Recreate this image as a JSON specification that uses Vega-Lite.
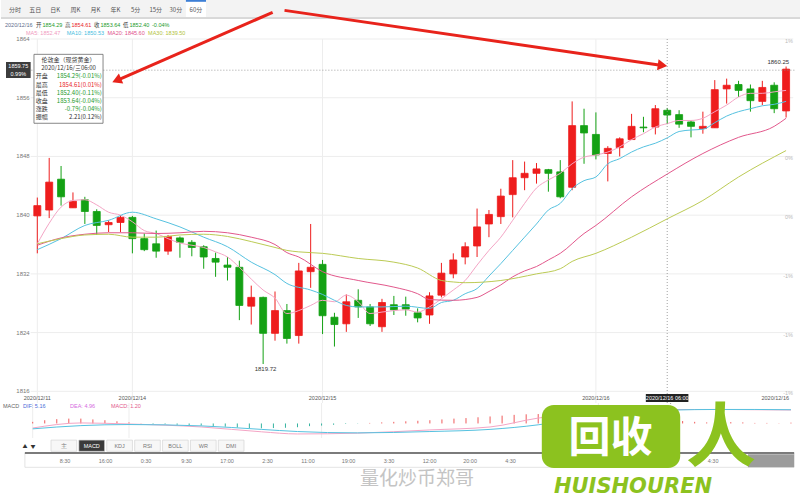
{
"$schema":"https://vega.github.io/schema/vega-lite/v6.json",
"padding":0,"spacing":0,"bounds":"flush","background":"#ffffff",
"config":{"view":{"stroke":null},"font":"Noto Sans CJK SC","text":{"font":"Noto Sans CJK SC","fontSize":6}},
"datasets":{
"k":[
{"i":0,"o":1839.9,"h":1842.4,"l":1834.8,"c":1841.3},
{"i":1,"o":1840.7,"h":1847.8,"l":1839.6,"c":1844.5},
{"i":2,"o":1844.9,"h":1846.7,"l":1841.3,"c":1842.5},
{"i":3,"o":1841.0,"h":1843.1,"l":1841.0,"c":1841.9},
{"i":4,"o":1842.1,"h":1842.5,"l":1838.8,"c":1840.5},
{"i":5,"o":1840.5,"h":1840.8,"l":1837.3,"c":1838.6},
{"i":6,"o":1838.7,"h":1839.3,"l":1837.7,"c":1839.0},
{"i":7,"o":1839.0,"h":1840.0,"l":1837.7,"c":1839.7},
{"i":8,"o":1839.7,"h":1839.9,"l":1834.8,"c":1836.8},
{"i":9,"o":1836.8,"h":1837.5,"l":1835.1,"c":1835.3},
{"i":10,"o":1836.1,"h":1837.9,"l":1834.2,"c":1835.1},
{"i":11,"o":1835.1,"h":1837.3,"l":1834.6,"c":1837.1},
{"i":12,"o":1836.9,"h":1837.1,"l":1834.2,"c":1836.3},
{"i":13,"o":1836.3,"h":1836.6,"l":1834.4,"c":1835.6},
{"i":14,"o":1835.7,"h":1835.9,"l":1832.7,"c":1834.3},
{"i":15,"o":1834.1,"h":1834.9,"l":1831.6,"c":1833.6},
{"i":16,"o":1833.2,"h":1834.3,"l":1831.1,"c":1832.9},
{"i":17,"o":1832.9,"h":1833.8,"l":1825.7,"c":1827.7},
{"i":18,"o":1827.6,"h":1830.4,"l":1825.1,"c":1828.8},
{"i":19,"o":1828.8,"h":1828.9,"l":1819.72,"c":1823.9},
{"i":20,"o":1823.9,"h":1829.6,"l":1822.9,"c":1827.0},
{"i":21,"o":1827.0,"h":1827.9,"l":1822.5,"c":1823.2},
{"i":22,"o":1823.6,"h":1833.5,"l":1822.5,"c":1832.4},
{"i":23,"o":1832.3,"h":1838.8,"l":1830.1,"c":1832.9},
{"i":24,"o":1833.3,"h":1833.9,"l":1823.8,"c":1826.3},
{"i":25,"o":1826.1,"h":1826.7,"l":1822.1,"c":1825.1},
{"i":26,"o":1825.2,"h":1829.2,"l":1824.1,"c":1828.2},
{"i":27,"o":1828.4,"h":1829.9,"l":1826.0,"c":1827.5},
{"i":28,"o":1827.5,"h":1827.9,"l":1824.9,"c":1825.2},
{"i":29,"o":1824.8,"h":1828.6,"l":1824.1,"c":1828.1},
{"i":30,"o":1827.8,"h":1829.0,"l":1826.4,"c":1827.1},
{"i":31,"o":1827.8,"h":1828.9,"l":1826.3,"c":1827.2},
{"i":32,"o":1826.7,"h":1827.3,"l":1825.4,"c":1826.0},
{"i":33,"o":1826.4,"h":1829.5,"l":1825.2,"c":1829.0},
{"i":34,"o":1829.1,"h":1833.5,"l":1828.8,"c":1832.1},
{"i":35,"o":1832.0,"h":1834.8,"l":1831.4,"c":1833.9},
{"i":36,"o":1834.3,"h":1836.3,"l":1833.3,"c":1835.7},
{"i":37,"o":1835.8,"h":1840.9,"l":1834.3,"c":1838.4},
{"i":38,"o":1838.8,"h":1840.7,"l":1837.0,"c":1840.1},
{"i":39,"o":1839.8,"h":1843.6,"l":1838.8,"c":1842.6},
{"i":40,"o":1842.8,"h":1847.5,"l":1839.7,"c":1845.1},
{"i":41,"o":1845.1,"h":1847.3,"l":1843.4,"c":1845.7},
{"i":42,"o":1845.7,"h":1847.1,"l":1844.3,"c":1846.3},
{"i":43,"o":1846.2,"h":1846.3,"l":1843.2,"c":1845.7},
{"i":44,"o":1845.9,"h":1847.5,"l":1842.3,"c":1842.5},
{"i":45,"o":1843.8,"h":1855.5,"l":1843.4,"c":1852.2},
{"i":46,"o":1852.2,"h":1854.5,"l":1847.0,"c":1851.2},
{"i":47,"o":1851.0,"h":1854.0,"l":1847.6,"c":1848.2},
{"i":48,"o":1848.4,"h":1849.4,"l":1844.6,"c":1849.1},
{"i":49,"o":1849.2,"h":1850.6,"l":1848.0,"c":1850.4},
{"i":50,"o":1850.3,"h":1853.8,"l":1850.3,"c":1852.1},
{"i":51,"o":1852.0,"h":1853.4,"l":1851.3,"c":1851.9},
{"i":52,"o":1852.0,"h":1855.0,"l":1851.0,"c":1854.5},
{"i":53,"o":1854.29,"h":1854.61,"l":1852.40,"c":1853.64},
{"i":54,"o":1853.7,"h":1854.3,"l":1851.9,"c":1852.4},
{"i":55,"o":1852.7,"h":1852.9,"l":1850.6,"c":1852.1},
{"i":56,"o":1851.8,"h":1854.1,"l":1851.1,"c":1852.1},
{"i":57,"o":1851.9,"h":1858.4,"l":1851.9,"c":1857.1},
{"i":58,"o":1857.2,"h":1858.6,"l":1855.2,"c":1857.7},
{"i":59,"o":1857.8,"h":1858.3,"l":1856.1,"c":1857.0},
{"i":60,"o":1857.2,"h":1857.8,"l":1854.1,"c":1855.6},
{"i":61,"o":1855.5,"h":1858.3,"l":1855.0,"c":1857.4},
{"i":62,"o":1857.7,"h":1858.1,"l":1853.9,"c":1854.5},
{"i":63,"o":1854.2,"h":1860.25,"l":1853.3,"c":1859.9}
],
"ma":[
{"s":"MA5","i":0,"v":1836.1},{"s":"MA5","i":1,"v":1838.9},{"s":"MA5","i":2,"v":1841.1},{"s":"MA5","i":3,"v":1842.0},{"s":"MA5","i":4,"v":1842.1},{"s":"MA5","i":5,"v":1841.4},{"s":"MA5","i":6,"v":1840.4},{"s":"MA5","i":7,"v":1840.0},{"s":"MA5","i":8,"v":1839.1},{"s":"MA5","i":9,"v":1837.9},{"s":"MA5","i":10,"v":1837.5},{"s":"MA5","i":11,"v":1836.8},{"s":"MA5","i":12,"v":1836.2},{"s":"MA5","i":13,"v":1835.9},{"s":"MA5","i":14,"v":1835.6},{"s":"MA5","i":15,"v":1835.0},{"s":"MA5","i":16,"v":1834.3},{"s":"MA5","i":17,"v":1832.9},{"s":"MA5","i":18,"v":1831.3},{"s":"MA5","i":19,"v":1829.8},{"s":"MA5","i":20,"v":1828.7},{"s":"MA5","i":21,"v":1826.6},{"s":"MA5","i":22,"v":1827.0},{"s":"MA5","i":23,"v":1827.7},{"s":"MA5","i":24,"v":1828.4},{"s":"MA5","i":25,"v":1828.2},{"s":"MA5","i":26,"v":1829.1},{"s":"MA5","i":27,"v":1828.2},{"s":"MA5","i":28,"v":1826.6},{"s":"MA5","i":29,"v":1826.8},{"s":"MA5","i":30,"v":1827.0},{"s":"MA5","i":31,"v":1827.1},{"s":"MA5","i":32,"v":1826.8},{"s":"MA5","i":33,"v":1827.5},{"s":"MA5","i":34,"v":1828.6},{"s":"MA5","i":35,"v":1829.8},{"s":"MA5","i":36,"v":1831.1},{"s":"MA5","i":37,"v":1833.2},{"s":"MA5","i":38,"v":1835.2},{"s":"MA5","i":39,"v":1837.0},{"s":"MA5","i":40,"v":1839.3},{"s":"MA5","i":41,"v":1841.6},{"s":"MA5","i":42,"v":1843.7},{"s":"MA5","i":43,"v":1844.8},{"s":"MA5","i":44,"v":1845.7},{"s":"MA5","i":45,"v":1847.0},{"s":"MA5","i":46,"v":1847.9},{"s":"MA5","i":47,"v":1848.2},{"s":"MA5","i":48,"v":1848.6},{"s":"MA5","i":49,"v":1849.3},{"s":"MA5","i":50,"v":1850.3},{"s":"MA5","i":51,"v":1851.1},{"s":"MA5","i":52,"v":1852.0},{"s":"MA5","i":53,"v":1852.47},{"s":"MA5","i":54,"v":1852.9},{"s":"MA5","i":55,"v":1852.9},{"s":"MA5","i":56,"v":1853.2},{"s":"MA5","i":57,"v":1854.1},{"s":"MA5","i":58,"v":1855.0},{"s":"MA5","i":59,"v":1856.1},{"s":"MA5","i":60,"v":1856.6},{"s":"MA5","i":61,"v":1856.6},{"s":"MA5","i":62,"v":1856.8},{"s":"MA5","i":63,"v":1857.0},
{"s":"MA10","i":0,"v":1835.3},{"s":"MA10","i":2,"v":1836.8},{"s":"MA10","i":4,"v":1838.6},{"s":"MA10","i":6,"v":1839.3},{"s":"MA10","i":8,"v":1840.4},{"s":"MA10","i":10,"v":1839.5},{"s":"MA10","i":12,"v":1838.4},{"s":"MA10","i":14,"v":1837.0},{"s":"MA10","i":16,"v":1835.7},{"s":"MA10","i":18,"v":1833.6},{"s":"MA10","i":20,"v":1831.9},{"s":"MA10","i":21,"v":1830.7},{"s":"MA10","i":23,"v":1829.8},{"s":"MA10","i":24,"v":1829.2},{"s":"MA10","i":25,"v":1828.4},{"s":"MA10","i":26,"v":1827.7},{"s":"MA10","i":27,"v":1827.5},{"s":"MA10","i":29,"v":1827.5},{"s":"MA10","i":31,"v":1827.6},{"s":"MA10","i":33,"v":1827.3},{"s":"MA10","i":34,"v":1828.1},{"s":"MA10","i":35,"v":1828.4},{"s":"MA10","i":36,"v":1829.3},{"s":"MA10","i":37,"v":1830.0},{"s":"MA10","i":38,"v":1831.7},{"s":"MA10","i":39,"v":1833.4},{"s":"MA10","i":40,"v":1835.2},{"s":"MA10","i":41,"v":1837.0},{"s":"MA10","i":42,"v":1838.8},{"s":"MA10","i":43,"v":1840.7},{"s":"MA10","i":44,"v":1841.6},{"s":"MA10","i":45,"v":1843.6},{"s":"MA10","i":46,"v":1844.7},{"s":"MA10","i":47,"v":1845.2},{"s":"MA10","i":48,"v":1847.0},{"s":"MA10","i":49,"v":1847.7},{"s":"MA10","i":50,"v":1848.6},{"s":"MA10","i":51,"v":1849.3},{"s":"MA10","i":52,"v":1849.8},{"s":"MA10","i":53,"v":1850.53},{"s":"MA10","i":54,"v":1851.4},{"s":"MA10","i":55,"v":1851.6},{"s":"MA10","i":56,"v":1851.7},{"s":"MA10","i":57,"v":1852.6},{"s":"MA10","i":58,"v":1853.5},{"s":"MA10","i":59,"v":1854.1},{"s":"MA10","i":60,"v":1854.5},{"s":"MA10","i":61,"v":1854.9},{"s":"MA10","i":62,"v":1855.1},{"s":"MA10","i":63,"v":1855.5},
{"s":"MA20","i":0,"v":1835.9},{"s":"MA20","i":2,"v":1836.9},{"s":"MA20","i":4,"v":1837.4},{"s":"MA20","i":6,"v":1837.6},{"s":"MA20","i":8,"v":1837.6},{"s":"MA20","i":10,"v":1837.5},{"s":"MA20","i":12,"v":1837.6},{"s":"MA20","i":14,"v":1837.8},{"s":"MA20","i":16,"v":1837.6},{"s":"MA20","i":18,"v":1837.0},{"s":"MA20","i":20,"v":1836.0},{"s":"MA20","i":21,"v":1834.9},{"s":"MA20","i":22,"v":1834.3},{"s":"MA20","i":24,"v":1832.3},{"s":"MA20","i":27,"v":1831.1},{"s":"MA20","i":30,"v":1830.2},{"s":"MA20","i":32,"v":1829.3},{"s":"MA20","i":33,"v":1828.5},{"s":"MA20","i":35,"v":1828.4},{"s":"MA20","i":37,"v":1828.8},{"s":"MA20","i":38,"v":1829.6},{"s":"MA20","i":39,"v":1830.5},{"s":"MA20","i":40,"v":1831.6},{"s":"MA20","i":41,"v":1832.4},{"s":"MA20","i":42,"v":1833.0},{"s":"MA20","i":43,"v":1833.9},{"s":"MA20","i":44,"v":1834.8},{"s":"MA20","i":46,"v":1837.5},{"s":"MA20","i":47,"v":1838.6},{"s":"MA20","i":50,"v":1842.5},{"s":"MA20","i":53,"v":1845.6},{"s":"MA20","i":56,"v":1848.4},{"s":"MA20","i":59,"v":1850.6},{"s":"MA20","i":62,"v":1852.1},{"s":"MA20","i":63,"v":1853.2},
{"s":"MA30","i":0,"v":1836.1},{"s":"MA30","i":2,"v":1836.8},{"s":"MA30","i":4,"v":1837.3},{"s":"MA30","i":6,"v":1837.4},{"s":"MA30","i":8,"v":1837.0},{"s":"MA30","i":10,"v":1837.0},{"s":"MA30","i":12,"v":1837.3},{"s":"MA30","i":14,"v":1837.4},{"s":"MA30","i":16,"v":1837.1},{"s":"MA30","i":18,"v":1836.4},{"s":"MA30","i":20,"v":1835.6},{"s":"MA30","i":21,"v":1835.2},{"s":"MA30","i":22,"v":1835.0},{"s":"MA30","i":24,"v":1834.8},{"s":"MA30","i":27,"v":1834.1},{"s":"MA30","i":30,"v":1833.6},{"s":"MA30","i":32,"v":1832.8},{"s":"MA30","i":34,"v":1831.1},{"s":"MA30","i":35,"v":1830.9},{"s":"MA30","i":36,"v":1830.8},{"s":"MA30","i":39,"v":1831.1},{"s":"MA30","i":42,"v":1832.0},{"s":"MA30","i":44,"v":1832.7},{"s":"MA30","i":45,"v":1833.7},{"s":"MA30","i":47,"v":1834.8},{"s":"MA30","i":50,"v":1837.0},{"s":"MA30","i":53,"v":1839.5},{"s":"MA30","i":56,"v":1842.0},{"s":"MA30","i":59,"v":1845.2},{"s":"MA30","i":63,"v":1848.8}
],
"lev":[{"p":1816},{"p":1824},{"p":1832},{"p":1840},{"p":1848},{"p":1856},{"p":1864}],
"dates":[{"i":0,"d":"2020/12/11"},{"i":8,"d":"2020/12/14"},{"i":24,"d":"2020/12/15"},{"i":47,"d":"2020/12/16"}],
"pct":[{"p":1864,"t":"1%"},{"p":1848,"t":"0%"},{"p":1840,"t":"0%"},{"p":1832,"t":"-1%"},{"p":1824,"t":"-1%"},{"p":1816,"t":"-1%"}],
"tip":[{"r":2,"k":"开盘","v":"1854.29(-0.01%)","d":"dn"},{"r":3,"k":"最高","v":"1854.61(0.01%)","d":"up"},{"r":4,"k":"最低","v":"1852.40(-0.11%)","d":"dn"},{"r":5,"k":"收盘","v":"1853.64(-0.04%)","d":"dn"},{"r":6,"k":"涨跌","v":"-0.79(-0.04%)","d":"dn"},{"r":7,"k":"振幅","v":"2.21(0.12%)","d":"flat"}],
"tabs":[{"t":"分时"},{"t":"五日"},{"t":"日K"},{"t":"周K"},{"t":"月K"},{"t":"年K"},{"t":"5分"},{"t":"15分"},{"t":"30分"},{"t":"60分"}],
"info":[{"k":1,"lab":"开","val":"1854.29","d":"dn"},{"k":2,"lab":"高","val":"1854.61","d":"up"},{"k":3,"lab":"收","val":"1853.64","d":"dn"},{"k":4,"lab":"低","val":"1852.40","d":"dn"},{"k":5,"lab":"","val":"-0.04%","d":"dn"}],
"mainfo":[{"k":0,"s":"MA5","t":"MA5: 1852.47"},{"k":1,"s":"MA10","t":"MA10: 1850.53"},{"k":2,"s":"MA20","t":"MA20: 1845.60"},{"k":3,"s":"MA30","t":"MA30: 1839.50"}],
"macd":[
{"s":"DIF","i":0,"v":-1.7},{"s":"DIF","i":4,"v":0.2},{"s":"DIF","i":8,"v":-0.2},{"s":"DIF","i":14,"v":-1.3},{"s":"DIF","i":19,"v":-3.1},{"s":"DIF","i":22,"v":-3.9},{"s":"DIF","i":27,"v":-3.6},{"s":"DIF","i":33,"v":-2.4},{"s":"DIF","i":38,"v":-1.3},{"s":"DIF","i":42,"v":2.0},{"s":"DIF","i":44,"v":3.1},{"s":"DIF","i":47,"v":4.5},{"s":"DIF","i":50,"v":5.0},{"s":"DIF","i":53,"v":5.16},{"s":"DIF","i":57,"v":5.2},{"s":"DIF","i":60,"v":5.1},{"s":"DIF","i":63,"v":5.0},
{"s":"DEA","i":0,"v":-2.0},{"s":"DEA","i":4,"v":-0.8},{"s":"DEA","i":8,"v":-0.4},{"s":"DEA","i":14,"v":-0.9},{"s":"DEA","i":19,"v":-2.2},{"s":"DEA","i":22,"v":-3.0},{"s":"DEA","i":27,"v":-3.5},{"s":"DEA","i":33,"v":-3.0},{"s":"DEA","i":38,"v":-2.2},{"s":"DEA","i":42,"v":-0.5},{"s":"DEA","i":44,"v":0.8},{"s":"DEA","i":47,"v":2.6},{"s":"DEA","i":50,"v":3.9},{"s":"DEA","i":53,"v":4.96},{"s":"DEA","i":57,"v":5.2},{"s":"DEA","i":60,"v":5.2},{"s":"DEA","i":63,"v":5.1}
],
"hist":[
{"i":0,"m":0.6},{"i":1,"m":1.2},{"i":2,"m":1.6},{"i":3,"m":1.8},{"i":4,"m":1.8},{"i":5,"m":1.5},{"i":6,"m":1.2},{"i":7,"m":0.8},{"i":8,"m":0.4},{"i":9,"m":0.1},{"i":10,"m":-0.2},{"i":11,"m":-0.3},{"i":12,"m":-0.5},{"i":13,"m":-0.7},{"i":14,"m":-0.8},{"i":15,"m":-1.0},{"i":16,"m":-1.2},{"i":17,"m":-1.5},{"i":18,"m":-1.7},{"i":19,"m":-1.8},{"i":20,"m":-1.7},{"i":21,"m":-1.6},{"i":22,"m":-1.4},{"i":23,"m":-1.0},{"i":24,"m":-0.8},{"i":25,"m":-0.5},{"i":26,"m":-0.2},{"i":27,"m":-0.1},{"i":28,"m":0.2},{"i":29,"m":0.4},{"i":30,"m":0.6},{"i":31,"m":0.8},{"i":32,"m":1.0},{"i":33,"m":1.2},{"i":34,"m":1.5},{"i":35,"m":1.8},{"i":36,"m":2.0},{"i":37,"m":2.3},{"i":38,"m":2.6},{"i":39,"m":2.9},{"i":40,"m":3.2},{"i":41,"m":3.4},{"i":42,"m":3.5},{"i":43,"m":3.4},{"i":44,"m":3.3},{"i":45,"m":3.4},{"i":46,"m":3.2},{"i":47,"m":2.9},{"i":48,"m":2.5},{"i":49,"m":2.1},{"i":50,"m":1.8},{"i":51,"m":1.5},{"i":52,"m":1.3},{"i":53,"m":1.2},{"i":54,"m":0.9},{"i":55,"m":0.6},{"i":56,"m":0.4},{"i":57,"m":0.5},{"i":58,"m":0.5},{"i":59,"m":0.4},{"i":60,"m":0.2},{"i":61,"m":0.2},{"i":62,"m":0.1},{"i":63,"m":0.3}
],
"itabs":[{"t":"主"},{"t":"MACD"},{"t":"KDJ"},{"t":"RSI"},{"t":"BOLL"},{"t":"WR"},{"t":"DMI"}],
"times":[{"k":0,"t":"8:30"},{"k":1,"t":"16:00"},{"k":2,"t":"0:30"},{"k":3,"t":"9:30"},{"k":4,"t":"17:00"},{"k":5,"t":"2:30"},{"k":6,"t":"11:00"},{"k":7,"t":"19:00"},{"k":8,"t":"3:30"},{"k":9,"t":"12:00"},{"k":10,"t":"20:00"},{"k":11,"t":"4:30"},{"k":16,"t":"4:30"}]
},
"vconcat":[
{
"width":800,"height":18,
"view":{"fill":"#f3f3f3","stroke":null},
"data":{"name":"tabs"},
"layer":[
{"transform":[{"filter":"datum.t=='60分'"}],"mark":{"type":"rect","fill":"#ffffff"},
 "encoding":{"x":{"field":"t","type":"nominal","scale":{"type":"band","domain":["分时","五日","日K","周K","月K","年K","5分","15分","30分","60分"],"range":[4,205],"paddingInner":0,"paddingOuter":0},"axis":null},
 "y":{"datum":0.06,"type":"quantitative","scale":{"domain":[0,1],"reverse":true,"nice":false,"zero":false},"axis":null},"y2":{"datum":1}}},
{"transform":[{"filter":"datum.t=='60分'"}],"mark":{"type":"rect","fill":"#3d7fd6"},
 "encoding":{"x":{"field":"t","type":"nominal","axis":null},"y":{"datum":0,"type":"quantitative","axis":null},"y2":{"datum":0.1}}},
{"mark":{"type":"text","fontSize":6,"color":"#555555"},
 "encoding":{"x":{"field":"t","type":"nominal","axis":null},"y":{"datum":0.55,"type":"quantitative","axis":null},"text":{"field":"t"}}},
{"mark":{"type":"rule","color":"#d8d8d8"},"encoding":{"y":{"datum":1,"type":"quantitative","axis":null}}}
]
},
{
"width":800,"height":21,
"layer":[
{"data":{"values":[{"k":0,"val":"2020/12/16"}]},"mark":{"type":"text","align":"left","fontSize":5.5,"color":"#5b6b8c","font":"Liberation Sans"},
 "encoding":{"x":{"field":"k","type":"ordinal","scale":{"type":"band","domain":[0],"range":[4,33],"paddingInner":0,"paddingOuter":0},"axis":null,"bandPosition":0},
 "y":{"datum":0.33,"type":"quantitative","scale":{"domain":[0,1],"reverse":true,"nice":false,"zero":false},"axis":null},"text":{"field":"val"}}},
{"data":{"name":"info"},"mark":{"type":"text","align":"left","fontSize":5.5,"color":"#444444"},
 "encoding":{"x":{"field":"k","type":"ordinal","scale":{"type":"band","domain":[1,2,3,4,5],"range":[35,180],"paddingInner":0,"paddingOuter":0},"axis":null,"bandPosition":0},
 "y":{"datum":0.33,"type":"quantitative","scale":{"domain":[0,1],"reverse":true,"nice":false,"zero":false},"axis":null},"text":{"field":"lab"}}},
{"data":{"name":"info"},"transform":[{"filter":"datum.lab!=''"}],"mark":{"type":"text","align":"left","fontSize":5.5,"dx":6.5,"font":"Liberation Sans"},
 "encoding":{"x":{"field":"k","type":"ordinal","scale":{"type":"band","domain":[1,2,3,4,5],"range":[35,180],"paddingInner":0,"paddingOuter":0},"axis":null,"bandPosition":0},
 "y":{"datum":0.33,"type":"quantitative","scale":{"domain":[0,1],"reverse":true,"nice":false,"zero":false},"axis":null},"text":{"field":"val"},
 "color":{"field":"d","type":"nominal","scale":{"domain":["up","dn","flat"],"range":["#e8242a","#1d9a2b","#5b6b8c"]},"legend":null}}},
{"data":{"name":"info"},"transform":[{"filter":"datum.lab==''"}],"mark":{"type":"text","align":"left","fontSize":5.5,"font":"Liberation Sans"},
 "encoding":{"x":{"field":"k","type":"ordinal","scale":{"type":"band","domain":[1,2,3,4,5],"range":[35,180],"paddingInner":0,"paddingOuter":0},"axis":null,"bandPosition":0},
 "y":{"datum":0.33,"type":"quantitative","scale":{"domain":[0,1],"reverse":true,"nice":false,"zero":false},"axis":null},"text":{"field":"val"},
 "color":{"field":"d","type":"nominal","scale":{"domain":["up","dn","flat"],"range":["#e8242a","#1d9a2b","#5b6b8c"]},"legend":null}}},
{"data":{"name":"mainfo"},"mark":{"type":"text","align":"left","fontSize":5.5,"font":"Liberation Sans"},
 "encoding":{"x":{"field":"k","type":"ordinal","scale":{"type":"band","domain":[0,1,2,3],"range":[25,187.8],"paddingInner":0,"paddingOuter":0},"axis":null,"bandPosition":0},
 "y":{"datum":0.72,"type":"quantitative","scale":{"domain":[0,1],"reverse":true,"nice":false,"zero":false},"axis":null},"text":{"field":"t"},
 "color":{"field":"s","type":"nominal","scale":{"domain":["MA5","MA10","MA20","MA30"],"range":["#f09ac0","#46bde0","#e0508a","#b2c23a"]},"legend":null}}}
],
"resolve":{"scale":{"x":"independent","color":"independent"}}
},
{
"width":800,"height":364,
"layer":[
{
"layer":[
{"data":{"name":"dates"},"mark":{"type":"rule","color":"#ededed","strokeWidth":1},
 "encoding":{"x":{"field":"i","type":"quantitative","scale":{"domain":[-2.634,63.834],"nice":false,"zero":false},"axis":null}}},
{"data":{"name":"lev"},"mark":{"type":"rule","color":"#ededed","strokeWidth":1},
 "encoding":{"x":{"datum":-0.56,"type":"quantitative","axis":null},"x2":{"datum":63.6},"y":{"field":"p","type":"quantitative","scale":{"domain":[1814.41,1864],"nice":false,"zero":false},"axis":null}}},
{"data":{"name":"lev"},"mark":{"type":"text","color":"#777777","fontSize":6,"align":"right","dx":-1,"font":"Liberation Sans"},
 "encoding":{"x":{"datum":-0.56,"type":"quantitative","axis":null},"y":{"field":"p","type":"quantitative","axis":null},"text":{"field":"p","type":"quantitative","format":"d"}}},
{"data":{"name":"k"},"mark":{"type":"rule","strokeWidth":1},
 "encoding":{"x":{"field":"i","type":"quantitative","axis":null},
 "y":{"field":"l","type":"quantitative","axis":null},
 "y2":{"field":"h"},
 "color":{"condition":{"test":"datum.c>=datum.o","value":"#ee1d1d"},"value":"#14a114"}}},
{"data":{"name":"k"},"mark":{"type":"bar","width":7,"strokeWidth":0.8},
 "encoding":{"x":{"field":"i","type":"quantitative","axis":null},"y":{"field":"o","type":"quantitative","axis":null},"y2":{"field":"c"},
 "color":{"condition":{"test":"datum.c>=datum.o","value":"#ee1d1d"},"value":"#14a114"},
 "stroke":{"condition":{"test":"datum.c>=datum.o","value":"#ee1d1d"},"value":"#14a114"}}},
{"data":{"name":"ma"},"mark":{"type":"line","strokeWidth":1,"interpolate":"monotone"},
 "encoding":{"x":{"field":"i","type":"quantitative","axis":null},"y":{"field":"v","type":"quantitative","axis":null},
 "color":{"field":"s","type":"nominal","scale":{"domain":["MA5","MA10","MA20","MA30"],"range":["#f4a5c5","#56c2e0","#e2588c","#bccb55"]},"legend":null},"detail":{"field":"s"}}},
{"data":{"values":[{}]},"mark":{"type":"rule","color":"#8a8a8a","strokeDash":[1,2],"strokeWidth":0.8},
 "encoding":{"x":{"datum":-0.5,"type":"quantitative","axis":null},"x2":{"datum":63.834},"y":{"datum":1859.75,"type":"quantitative","axis":null}}},
{"data":{"values":[{}]},"mark":{"type":"rule","color":"#8a8a8a","strokeDash":[1,2],"strokeWidth":0.8},
 "encoding":{"x":{"datum":53,"type":"quantitative","axis":null},"y":{"datum":1814.41,"type":"quantitative","axis":null},"y2":{"datum":1864}}},
{"data":{"values":[{}]},"mark":{"type":"rect","fill":"#3c3c3c"},
 "encoding":{"x":{"datum":-2.634,"type":"quantitative","axis":null},"x2":{"datum":-0.56},"y":{"datum":1860.87,"type":"quantitative","axis":null},"y2":{"datum":1858.69}}},
{"data":{"values":[{}]},"mark":{"type":"text","color":"#ffffff","fontSize":5.5,"font":"Liberation Sans"},
 "encoding":{"x":{"datum":-1.6,"type":"quantitative","axis":null},"y":{"datum":1860.32,"type":"quantitative","axis":null},"text":{"value":"1859.75"}}},
{"data":{"values":[{}]},"mark":{"type":"text","color":"#ffffff","fontSize":5.5,"font":"Liberation Sans"},
 "encoding":{"x":{"datum":-1.6,"type":"quantitative","axis":null},"y":{"datum":1859.23,"type":"quantitative","axis":null},"text":{"value":"0.99%"}}},
{"data":{"values":[{}]},"mark":{"type":"text","color":"#333333","fontSize":6,"baseline":"top","dy":2,"font":"Liberation Sans"},
 "encoding":{"x":{"datum":19.2,"type":"quantitative","axis":null},"y":{"datum":1819.72,"type":"quantitative","axis":null},"text":{"value":"1819.72"}}},
{"data":{"values":[{}]},"mark":{"type":"text","color":"#333333","fontSize":6,"baseline":"bottom","align":"right","dx":3,"dy":-2,"font":"Liberation Sans"},
 "encoding":{"x":{"datum":63,"type":"quantitative","axis":null},"y":{"datum":1860.25,"type":"quantitative","axis":null},"text":{"value":"1860.25"}}},
{"data":{"name":"dates"},"mark":{"type":"text","color":"#555555","fontSize":5.5,"font":"Liberation Sans"},
 "encoding":{"x":{"field":"i","type":"quantitative","axis":null},"y":{"datum":1815.09,"type":"quantitative","axis":null},"text":{"field":"d"}}},
{"data":{"values":[{}]},"mark":{"type":"text","color":"#555555","fontSize":5.5,"align":"right","dx":-7,"font":"Liberation Sans"},
 "encoding":{"x":{"datum":63.834,"type":"quantitative","axis":null},"y":{"datum":1815.09,"type":"quantitative","axis":null},"text":{"value":"2020/12/16"}}},
{"data":{"values":[{}]},"mark":{"type":"rect","fill":"#222222"},
 "encoding":{"x":{"datum":51.2,"type":"quantitative","axis":null},"x2":{"datum":54.78},"y":{"datum":1815.63,"type":"quantitative","axis":null},"y2":{"datum":1814.54}}},
{"data":{"values":[{}]},"mark":{"type":"text","color":"#ffffff","fontSize":5.5,"font":"Liberation Sans"},
 "encoding":{"x":{"datum":53,"type":"quantitative","axis":null},"y":{"datum":1815.09,"type":"quantitative","axis":null},"text":{"value":"2020/12/16 06:00"}}},
{"data":{"name":"pct"},"mark":{"type":"text","color":"#bbbbbb","fontSize":5.5,"align":"right","dx":-3,"dy":2,"font":"Liberation Sans"},
 "encoding":{"x":{"datum":63.834,"type":"quantitative","axis":null},"y":{"field":"p","type":"quantitative","axis":null},"text":{"field":"t"}}},
{"data":{"values":[{}]},"mark":{"type":"rule","color":"#e8231b","strokeWidth":3},
 "encoding":{"x":{"datum":19.8,"type":"quantitative","axis":null},"x2":{"datum":6.9},"y":{"datum":1867.63,"type":"quantitative","axis":null},"y2":{"datum":1858.5}}},
{"data":{"values":[{}]},"mark":{"type":"point","shape":"triangle-up","filled":true,"size":120,"angle":246.7,"color":"#e8231b","opacity":1},
 "encoding":{"x":{"datum":6.68,"type":"quantitative","axis":null},"y":{"datum":1858.37,"type":"quantitative","axis":null}}},
{"data":{"values":[{}]},"mark":{"type":"rule","color":"#e8231b","strokeWidth":3},
 "encoding":{"x":{"datum":20.8,"type":"quantitative","axis":null},"x2":{"datum":52.3},"y":{"datum":1867.9,"type":"quantitative","axis":null},"y2":{"datum":1860.45}}},
{"data":{"values":[{}]},"mark":{"type":"point","shape":"triangle-up","filled":true,"size":120,"angle":98.2,"color":"#e8231b","opacity":1},
 "encoding":{"x":{"datum":52.6,"type":"quantitative","axis":null},"y":{"datum":1860.4,"type":"quantitative","axis":null}}}
]
},
{
"layer":[
{"data":{"values":[{}]},"mark":{"type":"rect","fill":"#ffffff","stroke":"#6a6a6a","strokeWidth":0.8},
 "encoding":{"x":{"datum":-0.28,"type":"quantitative","axis":null},"x2":{"datum":5.53},
 "y":{"datum":-0.69,"type":"quantitative","scale":{"domain":[-2.56,41.84],"reverse":true,"nice":false,"zero":false},"axis":null},"y2":{"datum":7.72}}},
{"data":{"values":[{}]},"mark":{"type":"text","color":"#333333","fontSize":6},
 "encoding":{"x":{"datum":2.63,"type":"quantitative","axis":null},"y":{"datum":0,"type":"quantitative","axis":null},"text":{"value":"伦敦金（现货黄金）"}}},
{"data":{"values":[{}]},"mark":{"type":"text","color":"#333333","fontSize":6},
 "encoding":{"x":{"datum":2.63,"type":"quantitative","axis":null},"y":{"datum":1.01,"type":"quantitative","axis":null},"text":{"value":"2020/12/16/三06:00"}}},
{"data":{"name":"tip"},"mark":{"type":"text","color":"#333333","fontSize":6,"align":"left"},
 "encoding":{"x":{"datum":-0.14,"type":"quantitative","axis":null},"y":{"field":"r","type":"quantitative","axis":null},"text":{"field":"k"}}},
{"data":{"name":"tip"},"mark":{"type":"text","fontSize":6,"align":"right"},
 "encoding":{"x":{"datum":5.43,"type":"quantitative","axis":null},"y":{"field":"r","type":"quantitative","axis":null},"text":{"field":"v"},
 "color":{"condition":[{"test":"datum.d=='up'","value":"#e8242a"},{"test":"datum.d=='dn'","value":"#1d9a2b"}],"value":"#333333"}}}
]
}
],
"resolve":{"scale":{"y":"independent"}}
},
{
"width":800,"height":35,
"layer":[
{"data":{"name":"dates"},"mark":{"type":"rule","color":"#ededed","strokeWidth":1},
 "encoding":{"x":{"field":"i","type":"quantitative","scale":{"domain":[-2.634,63.834],"nice":false,"zero":false},"axis":null}}},
{"data":{"name":"hist"},"mark":{"type":"rule","strokeWidth":1},
 "encoding":{"x":{"field":"i","type":"quantitative","axis":null},"y":{"field":"m","type":"quantitative","scale":{"domain":[-5.4,7.6],"nice":false,"zero":false},"axis":null},"y2":{"datum":0},
 "color":{"condition":{"test":"datum.m>=0","value":"#ef5a5a"},"value":"#35b3a0"}}},
{"data":{"name":"macd"},"mark":{"type":"line","strokeWidth":1,"interpolate":"monotone"},
 "encoding":{"x":{"field":"i","type":"quantitative","axis":null},"y":{"field":"v","type":"quantitative","axis":null},
 "color":{"field":"s","type":"nominal","scale":{"domain":["DIF","DEA"],"range":["#4d6bd8","#d56be0"]},"legend":null}}},
{"data":{"values":[{}]},"mark":{"type":"rule","color":"#8a8a8a","strokeDash":[1,2],"strokeWidth":0.8},
 "encoding":{"x":{"datum":53,"type":"quantitative","axis":null}}},
{"data":{"values":[{}]},"mark":{"type":"text","color":"#666666","fontSize":5.5,"align":"left","font":"Liberation Sans"},
 "encoding":{"x":{"datum":-2.47,"type":"quantitative","axis":null},"y":{"datum":6.67,"type":"quantitative","axis":null},"text":{"value":"MACD"}}},
{"data":{"values":[{}]},"mark":{"type":"text","color":"#4d6bd8","fontSize":5.5,"align":"left","font":"Liberation Sans"},
 "encoding":{"x":{"datum":-0.81,"type":"quantitative","axis":null},"y":{"datum":6.67,"type":"quantitative","axis":null},"text":{"value":"DIF: 5.16"}}},
{"data":{"values":[{}]},"mark":{"type":"text","color":"#d56be0","fontSize":5.5,"align":"left","font":"Liberation Sans"},
 "encoding":{"x":{"datum":3.1,"type":"quantitative","axis":null},"y":{"datum":6.67,"type":"quantitative","axis":null},"text":{"value":"DEA: 4.96"}}},
{"data":{"values":[{}]},"mark":{"type":"text","color":"#e2588c","fontSize":5.5,"align":"left","font":"Liberation Sans"},
 "encoding":{"x":{"datum":6.5,"type":"quantitative","axis":null},"y":{"datum":6.67,"type":"quantitative","axis":null},"text":{"value":"MACD: 1.20"}}}
]
},
{
"width":800,"height":14,
"layer":[
{"data":{"name":"itabs"},"mark":{"type":"rect","stroke":"#cfcfcf","strokeWidth":0.6},
 "encoding":{"x":{"field":"t","type":"nominal","scale":{"type":"band","domain":["主","MACD","KDJ","RSI","BOLL","WR","DMI"],"range":[50,243],"paddingInner":0.08,"paddingOuter":0},"axis":null},
 "y":{"datum":0.15,"type":"quantitative","scale":{"domain":[0,1],"reverse":true,"nice":false,"zero":false},"axis":null},"y2":{"datum":0.95},
 "color":{"condition":{"test":"datum.t=='MACD'","value":"#3a3a3a"},"value":"#f7f7f7"}}},
{"data":{"name":"itabs"},"mark":{"type":"text","fontSize":5.5,"font":"Liberation Sans"},
 "encoding":{"x":{"field":"t","type":"nominal","scale":{"type":"band","domain":["主","MACD","KDJ","RSI","BOLL","WR","DMI"],"range":[50,243],"paddingInner":0.08,"paddingOuter":0},"axis":null},
 "y":{"datum":0.55,"type":"quantitative","scale":{"domain":[0,1],"reverse":true,"nice":false,"zero":false},"axis":null},"text":{"field":"t"},
 "color":{"condition":{"test":"datum.t=='MACD'","value":"#ffffff"},"value":"#777777"}}},
{"data":{"values":[{"a":"▲"},{"a":"▼"}]},"mark":{"type":"text","fontSize":5,"color":"#333333"},
 "encoding":{"x":{"field":"a","type":"nominal","scale":{"type":"point","domain":["▲","▼"],"range":[24,32],"padding":0},"axis":null},
 "y":{"datum":0.55,"type":"quantitative","scale":{"domain":[0,1],"reverse":true,"nice":false,"zero":false},"axis":null},"text":{"field":"a"}}}
],
"resolve":{"scale":{"x":"independent"}}
},
{
"width":800,"height":18,
"layer":[
{"data":{"values":[{}]},"mark":{"type":"rect","fill":"#ffffff","stroke":"#d0d0d0","strokeWidth":0.6},
 "encoding":{"x":{"datum":-0.99,"type":"quantitative","scale":{"domain":[-1.58,18.17],"nice":false,"zero":false},"axis":null},"x2":{"datum":18.0},
 "y":{"datum":0.05,"type":"quantitative","scale":{"domain":[0,1],"reverse":true,"nice":false,"zero":false},"axis":null},"y2":{"datum":0.85}}},
{"data":{"values":[{}]},"mark":{"type":"rect","fill":"#9c9c9c"},
 "encoding":{"x":{"datum":16.86,"type":"quantitative","axis":null},"x2":{"datum":18.0},"y":{"datum":0.12,"type":"quantitative","axis":null},"y2":{"datum":0.85}}},
{"data":{"values":[{}]},"mark":{"type":"rule","color":"#555555","strokeWidth":1.5},
 "encoding":{"x":{"datum":-0.99,"type":"quantitative","axis":null},"x2":{"datum":18.0},"y":{"datum":0.05,"type":"quantitative","axis":null}}},
{"data":{"name":"times"},"mark":{"type":"text","fontSize":5.5,"color":"#777777","font":"Liberation Sans"},
 "encoding":{"x":{"field":"k","type":"quantitative","axis":null},"y":{"datum":0.5,"type":"quantitative","axis":null},"text":{"field":"t"}}}
]
},
{
"width":800,"height":30,
"layer":[
{"data":{"values":[{}]},"mark":{"type":"text","fontSize":19,"color":"#c4c4c4"},
 "encoding":{"x":{"datum":0.52,"type":"quantitative","scale":{"domain":[0,1],"nice":false,"zero":false},"axis":null},
 "y":{"datum":0.3,"type":"quantitative","scale":{"domain":[0,1],"reverse":true,"nice":false,"zero":false},"axis":null},"text":{"value":"量化炒币郑哥"}}},
{"data":{"values":[{}]},"mark":{"type":"rect","fill":"#8cc21f","cornerRadius":12},
 "encoding":{"x":{"datum":0.676,"type":"quantitative","axis":null},"x2":{"datum":0.849},"y":{"datum":-2.17,"type":"quantitative","axis":null},"y2":{"datum":-0.07}}},
{"data":{"values":[{}]},"mark":{"type":"text","fontSize":42,"fontWeight":"bold","color":"#ffffff"},
 "encoding":{"x":{"datum":0.762,"type":"quantitative","axis":null},"y":{"datum":-1.05,"type":"quantitative","axis":null},"text":{"value":"回收"}}},
{"data":{"values":[{}]},"mark":{"type":"text","fontSize":70,"fontWeight":"bold","color":"#8cc21f"},
 "encoding":{"x":{"datum":0.9,"type":"quantitative","axis":null},"y":{"datum":-1.0,"type":"quantitative","axis":null},"text":{"value":"人"}}},
{"data":{"values":[{}]},"mark":{"type":"text","fontSize":21,"fontWeight":"bold","fontStyle":"italic","color":"#8cc21f","font":"DejaVu Sans"},
 "encoding":{"x":{"datum":0.79,"type":"quantitative","axis":null},"y":{"datum":0.58,"type":"quantitative","axis":null},"text":{"value":"HUISHOUREN"}}}
]
}
]
}
